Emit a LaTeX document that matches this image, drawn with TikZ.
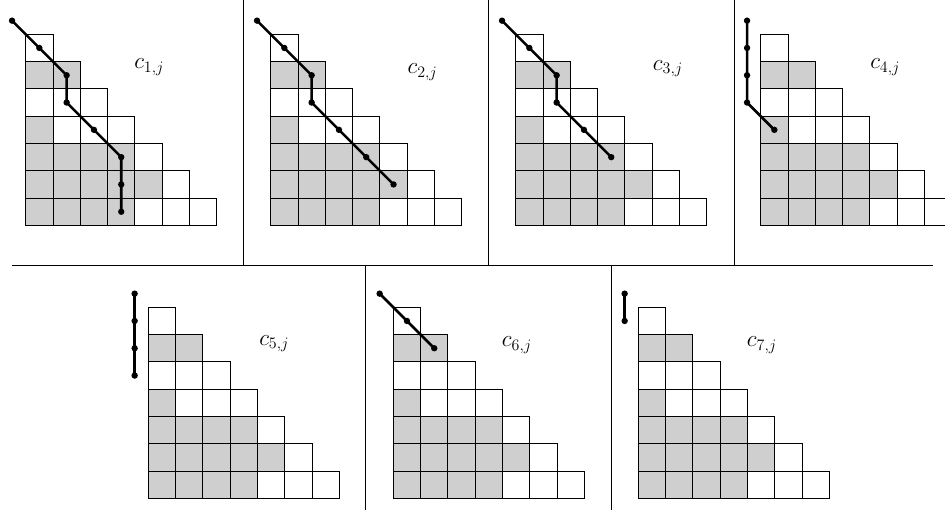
\documentclass[tikz,border=0pt]{standalone}
\usepackage{tikz}
\tikzset{
  sepline/.style={line width=0.75pt},
  cellbox/.style={draw=black, line width=0.7pt},
  shaded/.style={fill=black!19},
  trailline/.style={line width=1.9pt, line join=round},
  lbl/.style={anchor=base west, inner sep=0pt, font=\fontsize{18.5}{22}\selectfont},
}
\newcommand\youngpanel[2]{%
  \begin{scope}[shift={(#1,#2)}, x=20.475pt, y=-20.475pt]
    \foreach \r/\c in {2/1,2/2,4/1,5/1,5/2,5/3,5/4,6/1,6/2,6/3,6/4,6/5,7/1,7/2,7/3,7/4}
      \fill[shaded] (\c-1,\r-1) rectangle (\c,\r);
    \foreach \r in {1,...,7}
      \foreach \c in {1,...,\r}
        \draw[cellbox] (\c-1,\r-1) rectangle (\c,\r);
  \end{scope}}
\newcommand\trail[4]{%
  \begin{scope}[shift={(#1,#2)}, x=20.475pt, y=-20.475pt]
    \foreach \px/\py [count=\i] in {#4} {\coordinate (#3-\i) at (\px,\py); \xdef\trailn{\i}}
    \draw[trailline] (#3-1) \foreach \k in {2,...,\trailn} { -- (#3-\k) };
    \foreach \k in {1,...,\trailn} \fill (#3-\k) circle (2.4pt);
  \end{scope}}
\begin{document}
\begin{tikzpicture}[x=0.75pt, y=-0.75pt]
\useasboundingbox (0,0) rectangle (945,510);
\clip (0,0) rectangle (945,510);
\fill[white] (0,0) rectangle (945,510);
% panels
\youngpanel{25.7}{34.3}
\youngpanel{270.7}{34.3}
\youngpanel{515.7}{34.3}
\youngpanel{760.7}{34.3}
\youngpanel{148.3}{307.3}
\youngpanel{393.3}{307.3}
\youngpanel{638.3}{307.3}
% trails
\trail{25.7}{34.3}{a}{-0.5/-0.5,0.5/0.5,1.5/1.5,1.5/2.5,2.5/3.5,3.5/4.5,3.5/5.5,3.5/6.5}
\trail{270.7}{34.3}{b}{-0.5/-0.5,0.5/0.5,1.5/1.5,1.5/2.5,2.5/3.5,3.5/4.5,4.5/5.5}
\trail{515.7}{34.3}{c}{-0.5/-0.5,0.5/0.5,1.5/1.5,1.5/2.5,2.5/3.5,3.5/4.5}
\trail{760.7}{34.3}{d}{-0.5/-0.5,-0.5/0.5,-0.5/1.5,-0.5/2.5,0.5/3.5}
\trail{148.3}{307.3}{e}{-0.5/-0.5,-0.5/0.5,-0.5/1.5,-0.5/2.5}
\trail{393.3}{307.3}{f}{-0.5/-0.5,0.5/0.5,1.5/1.5}
\trail{638.3}{307.3}{g}{-0.5/-0.5,-0.5/0.5}
% separators
\draw[sepline] (12,265.5) -- (933,265.5);
\draw[sepline] (243.5,0) -- (243.5,265.5);
\draw[sepline] (488.5,0) -- (488.5,265.5);
\draw[sepline] (734,0) -- (734,265.5);
\draw[sepline] (365,265.5) -- (365,510);
\draw[sepline] (611.5,265.5) -- (611.5,510);
% labels
\node[lbl] (l1) at (134,69) {$c_{1,j}$};
\node[lbl] (l2) at (407.3,74) {$c_{2,j}$};
\node[lbl] (l3) at (652.7,70) {$c_{3,j}$};
\node[lbl] (l4) at (870,69) {$c_{4,j}$};
\node[lbl] (l5) at (259,345) {$c_{5,j}$};
\node[lbl] (l6) at (501.7,346.7) {$c_{6,j}$};
\node[lbl] (l7) at (746.7,346.7) {$c_{7,j}$};
\end{tikzpicture}
\end{document}
